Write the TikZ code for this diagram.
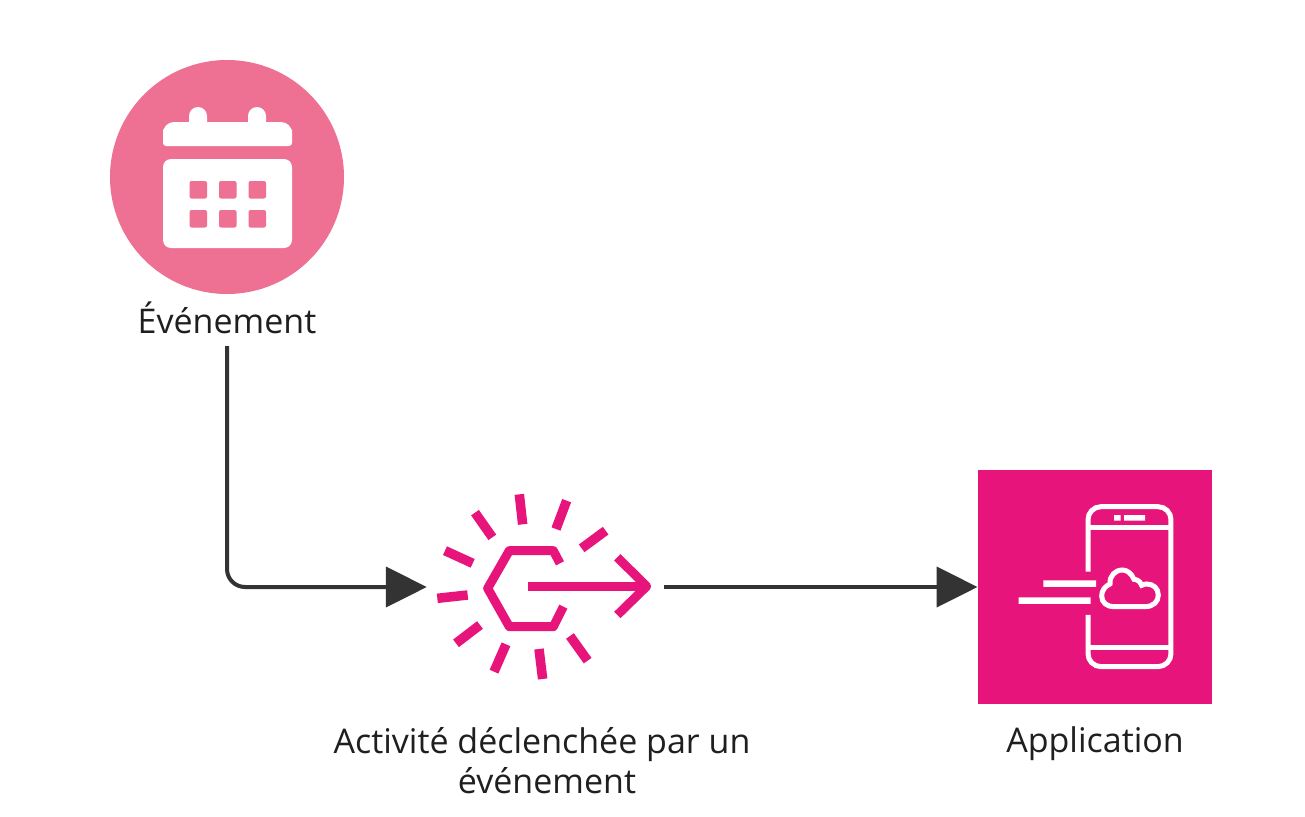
\documentclass[tikz,border=0pt]{standalone}
\usepackage{fontspec}
\setmainfont{Open Sans}
\usetikzlibrary{arrows.meta}
\definecolor{evpink}{HTML}{EE7093}
\definecolor{magenta}{HTML}{E7157B}
\definecolor{inkdark}{HTML}{333333}
\definecolor{txt}{HTML}{1F1F1F}
\tikzset{
  x=1pt,y=-1pt,
  lbl/.style={font=\fontsize{34}{40}\selectfont,text=txt,align=center,inner sep=0pt},
  conn/.style={draw=inkdark,line width=4pt,-{Triangle[length=41pt,width=40pt,fill=inkdark]}},
  ray/.style={draw=magenta,line width=9.5pt},
  hexline/.style={draw=magenta,line width=9pt,line join=round},
  phone/.style={draw=white,line width=5pt},
  zoomB/.style={shift={(420pt,-480pt)},x=0.3333pt,y=-0.3333pt},
  zoomC/.style={shift={(970pt,-460pt)},x=0.3333pt,y=-0.3333pt}
}
\begin{document}
\begin{tikzpicture}
\useasboundingbox (0,0) rectangle (1305,816);
\fill[white] (0,0) rectangle (1305,816);
% event
\node[circle,fill=evpink,minimum size=234pt,inner sep=0pt] (evcircle) at (227,177) {};
\fill[white,rounded corners=9pt] (189,107) rectangle (207,132);
\fill[white,rounded corners=9pt] (248,107) rectangle (266,132);
\fill[white,rounded corners=11pt] (163,122) rectangle (292,140);
\fill[white,rounded corners=3pt] (163,130) rectangle (292,146);
\fill[white,rounded corners=8pt] (163,159) rectangle (292,248);
\foreach \xa in {189.5,219,248.5}\foreach \ya in {181,210}
  \fill[evpink,rounded corners=2pt] (\xa,\ya) rectangle ++(17.5,17.5);
\node[lbl,minimum height=56pt] (evlabel) at (227,318) {Événement};
% activity icon
\node[minimum width=237pt,minimum height=190pt,inner sep=0pt] (icon) at (545.5,587) {};
\begin{scope}[zoomB]
\draw[hexline] (420,250) -- (400,212) -- (268,212) -- (203,325) -- (268,440) -- (400,440) -- (430,380);
\draw[hexline] (325,319) -- (680,319);
\draw[hexline] (592,232) -- (680,319) -- (592,405);
\foreach \a/\b/\c/\d in {298/43/308/133,440/62/408/147,557/152/485/205,165/98/217/172,75/212/158/250,52/355/143/345,180/435/108/490,258/493/222/575,357/507/368/597,450/468/503/542}
  \draw[ray] (\a,\b) -- (\c,\d);
\end{scope}
\node[lbl] (actlabel) at (542,761) {Activité déclenchée par un\\\hspace*{10pt}événement};
% application
\node[fill=magenta,minimum size=234.5pt,inner sep=0pt] (app) at (1095,587) {};
\begin{scope}[zoomC]
\draw[phone,rounded corners=13pt] (354,335) -- (354,140) -- (603,140) -- (603,620) -- (354,620) -- (354,465);
\draw[phone] (354,203) -- (603,203) (354,562) -- (603,562);
\fill[white] (432,165) rectangle (452,182) (462,165) rectangle (525,182);
\fill[white] (220,361) rectangle (378,381) (146,412) rectangle (362,432);
\draw[phone,fill=magenta] (430,440) -- (525,440)
  .. controls (550,440) and (565,425) .. (565,405)
  .. controls (565,385) and (550,372) .. (530,372)
  .. controls (525,372) and (520,374) .. (515,376)
  .. controls (510,360) and (495,358) .. (492,358)
  .. controls (485,340) and (470,330) .. (458,330)
  .. controls (435,330) and (418,348) .. (420,372)
  .. controls (405,378) and (395,392) .. (395,408)
  .. controls (395,428) and (412,440) .. (430,440) -- cycle;
\end{scope}
\node[lbl] (applabel) at (1095,744) {Application};
% connectors
\draw[conn,rounded corners=18pt] (evlabel.south) |- (icon.west);
\draw[conn] (icon.east) -- (app.west);
\end{tikzpicture}
\end{document}
